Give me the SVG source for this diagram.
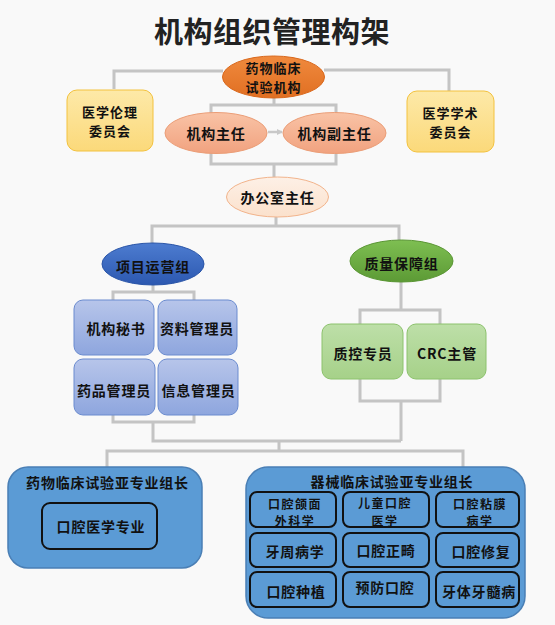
<svg xmlns="http://www.w3.org/2000/svg" width="555" height="625" viewBox="0 0 555 625">
<defs>
<linearGradient id="gOrange" x1="0" y1="0" x2="0" y2="1"><stop offset="0" stop-color="#f08a3e"/><stop offset="1" stop-color="#e06f22"/></linearGradient>
<linearGradient id="gSalmon" x1="0" y1="0" x2="0" y2="1"><stop offset="0" stop-color="#f9c3a6"/><stop offset="1" stop-color="#f1a27f"/></linearGradient>
<linearGradient id="gPeach" x1="0" y1="0" x2="0" y2="1"><stop offset="0" stop-color="#fdf0e6"/><stop offset="1" stop-color="#fbe1cc"/></linearGradient>
<linearGradient id="gYellow" x1="0" y1="0" x2="0" y2="1"><stop offset="0" stop-color="#fde9a8"/><stop offset="1" stop-color="#fbd97a"/></linearGradient>
<linearGradient id="gBlueE" x1="0" y1="0" x2="0" y2="1"><stop offset="0" stop-color="#4d7cd0"/><stop offset="1" stop-color="#2c58b0"/></linearGradient>
<linearGradient id="gGreenE" x1="0" y1="0" x2="0" y2="1"><stop offset="0" stop-color="#7ebf52"/><stop offset="1" stop-color="#5c9a35"/></linearGradient>
<linearGradient id="gBlueBox" x1="0" y1="0" x2="0" y2="1"><stop offset="0" stop-color="#b7c5ea"/><stop offset="1" stop-color="#8ea6de"/></linearGradient>
<linearGradient id="gGreenBox" x1="0" y1="0" x2="0" y2="1"><stop offset="0" stop-color="#bddfa8"/><stop offset="1" stop-color="#a6d189"/></linearGradient>
<marker id="arr" markerWidth="6" markerHeight="6" refX="5" refY="3" orient="auto" markerUnits="userSpaceOnUse"><path d="M0,0 L6,3 L0,6 z" fill="#c8c8c8"/></marker>
</defs>
<style>
text{font-family:"Noto Sans CJK SC","Liberation Sans",sans-serif;font-weight:bold;fill:#111;text-anchor:middle;dominant-baseline:central;font-size:14px;letter-spacing:0.8px}
.title{font-size:29px;fill:#222;letter-spacing:0.5px;font-weight:bold}
.two{font-size:13px;letter-spacing:1px}
.sm{font-size:12px;letter-spacing:1.5px}
.conn{fill:none;stroke:#c4c4c4;stroke-width:3}
.yel{fill:url(#gYellow);stroke:#f3c23e;stroke-width:1}
.bbox{fill:url(#gBlueBox);stroke:#6a8bcf;stroke-width:1}
.gbox{fill:url(#gGreenBox);stroke:#8cc26c;stroke-width:1}
.big{fill:#5b9bd5;stroke:#4a7fb5;stroke-width:1.5}
.inner{fill:#5b9bd5;stroke:#111;stroke-width:2}
</style>
<rect width="555" height="625" fill="#f9f9f9"/>
<text class="title" x="272" y="30">机构组织管理构架</text>

<g id="connectors">
<path class="conn" d="M223,71 H114 V89"/>
<path class="conn" d="M324,70 H449 V91"/>
<path class="conn" d="M274,97 V105 M211,113 V105 H336 V113"/>
<line x1="268" y1="132" x2="282" y2="132" stroke="#c8c8c8" stroke-width="2.5" marker-end="url(#arr)"/>
<path class="conn" d="M211,153 V164 H336 V153 M274,164 V177"/>
<path class="conn" d="M276,217 V226 M152,243 V226 H399 V240"/>
<path class="conn" d="M153,285 V292 M113,300 V292 H194 V300"/>
<path class="conn" d="M401,282 V310 M360,324 V310 H440 V324"/>
<path class="conn" d="M113,415 V422 H194 V415 M153,422 V441 H401"/>
<path class="conn" d="M360,379 V401 H440 V379 M401,401 V441"/>
<path class="conn" d="M279,441 V451 M107,467 V451 H463 V467"/>
</g>

<g id="n-institution">
<ellipse cx="273.5" cy="77" rx="51" ry="21" fill="url(#gOrange)" stroke="#d9681c" stroke-width="1"/>
<text class="two" x="273.5" y="67.5">药物临床</text>
<text class="two" x="273.5" y="86.5">试验机构</text>
</g>
<g id="n-ethics">
<rect class="yel" x="67" y="90" width="86" height="61" rx="10"/>
<text class="two" x="110" y="111">医学伦理</text>
<text class="two" x="110" y="130">委员会</text>
</g>
<g id="n-academic">
<rect class="yel" x="407" y="91" width="87" height="61" rx="10"/>
<text class="two" x="450.5" y="112">医学学术</text>
<text class="two" x="450.5" y="131">委员会</text>
</g>
<g id="n-director">
<ellipse cx="216" cy="133" rx="51" ry="20.5" fill="url(#gSalmon)" stroke="#eb9d76" stroke-width="1"/>
<text x="216" y="133">机构主任</text>
</g>
<g id="n-vice">
<ellipse cx="334.5" cy="133" rx="51.5" ry="20.5" fill="url(#gSalmon)" stroke="#eb9d76" stroke-width="1"/>
<text x="334.5" y="133">机构副主任</text>
</g>
<g id="n-office">
<ellipse cx="277.5" cy="197" rx="51" ry="20" fill="url(#gPeach)" stroke="#f2b48c" stroke-width="1"/>
<text x="277.5" y="197">办公室主任</text>
</g>
<g id="n-ops">
<ellipse cx="153" cy="264" rx="51" ry="21" fill="url(#gBlueE)" stroke="#2a55a8" stroke-width="1"/>
<text x="153" y="266">项目运营组</text>
</g>
<g id="n-qa">
<ellipse cx="401.5" cy="261" rx="51.5" ry="21" fill="url(#gGreenE)" stroke="#5a9634" stroke-width="1"/>
<text x="401.5" y="263">质量保障组</text>
</g>
<g id="n-secretary">
<rect class="bbox" x="74" y="300" width="80" height="55" rx="9"/>
<text x="116" y="328">机构秘书</text>
</g>
<g id="n-data">
<rect class="bbox" x="158" y="300" width="79" height="55" rx="9"/>
<text x="197" y="328">资料管理员</text>
</g>
<g id="n-drug">
<rect class="bbox" x="74" y="359" width="81" height="56" rx="9"/>
<text x="114" y="390">药品管理员</text>
</g>
<g id="n-info">
<rect class="bbox" x="158" y="359" width="80" height="56" rx="9"/>
<text x="198.5" y="390">信息管理员</text>
</g>
<g id="n-qc">
<rect class="gbox" x="322" y="324" width="81" height="55" rx="9"/>
<text x="363" y="353">质控专员</text>
</g>
<g id="n-crc">
<rect class="gbox" x="407" y="324" width="79" height="55" rx="9"/>
<text x="447" y="353">CRC主管</text>
</g>
<g id="n-drug-group">
<rect class="big" x="8" y="467" width="194" height="101" rx="20"/>
<text x="107.5" y="482">药物临床试验亚专业组长</text>
<rect class="inner" x="42" y="503" width="115" height="46" rx="8"/>
<text x="101" y="526">口腔医学专业</text>
</g>
<g id="n-device-group">
<rect class="big" x="246" y="467" width="279" height="151" rx="22"/>
<text x="392" y="481">器械临床试验亚专业组长</text>
</g>
<g id="n-omfs">
<rect class="inner" x="250" y="492" width="86" height="35" rx="7"/>
<text class="sm" x="295" y="503">口腔颌面</text>
<text class="sm" x="295" y="520.5">外科学</text>
</g>
<g id="n-pediatric">
<rect class="inner" x="343" y="492" width="86" height="35" rx="7"/>
<text class="sm" x="385" y="502.5">儿童口腔</text>
<text class="sm" x="385" y="520">医学</text>
</g>
<g id="n-mucosa">
<rect class="inner" x="436" y="492" width="83" height="35" rx="7"/>
<text class="sm" x="480" y="503">口腔粘膜</text>
<text class="sm" x="480" y="520.5">病学</text>
</g>
<g id="n-perio">
<rect class="inner" x="250" y="533" width="86" height="34" rx="7"/>
<text x="295" y="551">牙周病学</text>
</g>
<g id="n-ortho">
<rect class="inner" x="343" y="533" width="86" height="34" rx="7"/>
<text x="386" y="550">口腔正畸</text>
</g>
<g id="n-prosth">
<rect class="inner" x="436" y="533" width="83" height="34" rx="7"/>
<text x="481" y="551">口腔修复</text>
</g>
<g id="n-implant">
<rect class="inner" x="250" y="572" width="86" height="35" rx="7"/>
<text x="296" y="591">口腔种植</text>
</g>
<g id="n-prevent">
<rect class="inner" x="343" y="572" width="86" height="35" rx="7"/>
<text x="385" y="587">预防口腔</text>
</g>
<g id="n-endo">
<rect class="inner" x="436" y="572" width="83" height="35" rx="7"/>
<text x="479" y="591">牙体牙髓病</text>
</g>
</svg>
